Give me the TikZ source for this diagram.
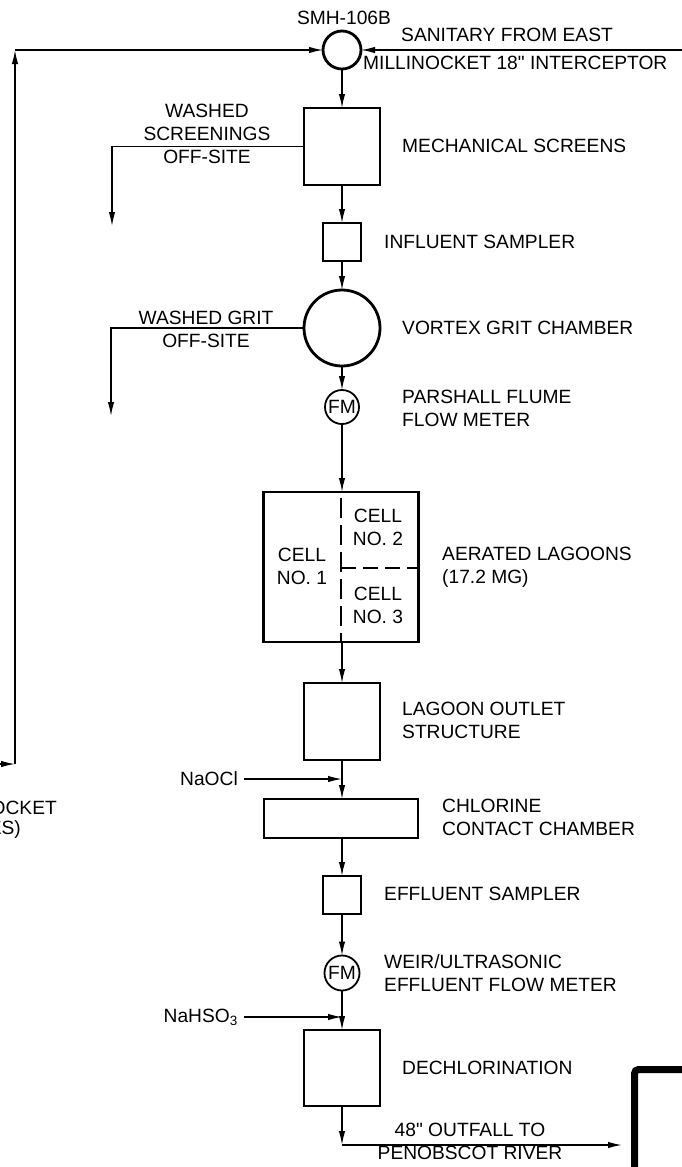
\documentclass[tikz,border=0pt]{standalone}
\usepackage{fontspec}
\setmainfont{Liberation Sans}[Ligatures=TeXOff]
\usetikzlibrary{arrows.meta}
\begin{document}
\begin{tikzpicture}[x=1pt,y=-1pt,
  font=\fontsize{19.2}{23}\selectfont,
  unit/.style={draw, line width=2.8pt, inner sep=0pt, outer sep=0pt, rectangle},
  circ/.style={draw, line width=2.8pt, inner sep=0pt, outer sep=0pt, circle},
  lbl/.style={anchor=west, inner sep=0pt, align=left},
  clbl/.style={inner sep=0pt, align=center},
  pipe/.style={line width=1.4pt},
  flow/.style={pipe, -{Latex[length=14pt,width=6.5pt]}},
  cdash/.style={line width=2.4pt, dash pattern=on 20pt off 7pt}]
\useasboundingbox (0,0) rectangle (681,1167);

% process units
\node[circ, minimum size=38pt] (smh) at (342,50) {};
\node[clbl] (smhl) at (344,18) {SMH-106B};
\node[unit, minimum width=76pt, minimum height=77pt] (ms) at (342,146.5) {};
\node[unit, minimum width=38pt, minimum height=38pt] (is) at (342,242) {};
\node[circ, minimum size=76pt] (vgc) at (342,328) {};
\node[circ, line width=1.8pt, minimum size=34pt] (fm1) at (342,407) {FM};
\node[unit, minimum width=155pt, minimum height=150pt] (lag) at (341,567) {};
\node[unit, minimum width=76pt, minimum height=77pt] (los) at (342,721.5) {};
\node[unit, minimum width=154pt, minimum height=39pt] (ccc) at (341,818.5) {};
\node[unit, minimum width=38pt, minimum height=38pt] (es) at (342,895) {};
\node[circ, line width=1.8pt, minimum size=35pt] (fm2) at (342,973) {FM};
\node[unit, minimum width=76pt, minimum height=76pt] (dech) at (342,1068) {};

% lagoon cell dividers
\coordinate (lagmid) at (341,568);
\draw[cdash, dash phase=-6pt] (lag.north) -- (lag.south);
\draw[cdash, dash pattern=on 15pt off 7pt] (lagmid) -- (lag.east |- lagmid);
\node[clbl] (c1) at (302,566) {CELL\\NO. 1};
\node[clbl] (c2) at (378,527) {CELL\\NO. 2};
\node[clbl] (c3) at (378,605) {CELL\\NO. 3};

% labels
\node[clbl] (san1) at (507,35) {SANITARY FROM EAST};
\node[lbl] (san2) at (363,63) {MILLINOCKET 18" INTERCEPTOR};
\node[lbl] (lms) at (402,146) {MECHANICAL SCREENS};
\node[lbl] (lis) at (384,242) {INFLUENT SAMPLER};
\node[lbl] (lvgc) at (402,328) {VORTEX GRIT CHAMBER};
\node[lbl] (lfm1) at (402,408) {PARSHALL FLUME\\FLOW METER};
\node[lbl] (llag) at (442,567) {AERATED LAGOONS\\(17.2 MG)};
\node[lbl] (llos) at (402,720) {LAGOON OUTLET\\STRUCTURE};
\node[lbl] (lccc) at (442,817) {CHLORINE\\CONTACT CHAMBER};
\node[lbl] (les) at (384,894) {EFFLUENT SAMPLER};
\node[lbl] (lfm2) at (384,973) {WEIR/ULTRASONIC\\EFFLUENT FLOW METER};
\node[lbl] (ldech) at (402,1068) {DECHLORINATION};
\node[clbl] (lws) at (207,134) {WASHED\\SCREENINGS\\OFF-SITE};
\node[clbl] (lwg) at (206,329) {WASHED GRIT\\OFF-SITE};
\node[clbl] (lout) at (470,1141) {48" OUTFALL TO\\PENOBSCOT RIVER};
\node[anchor=east, inner sep=0pt] (lft1) at (57,808) {OCKET};
\node[anchor=east, inner sep=0pt] (lft2) at (21,830) {ES)};
\node[anchor=east, inner sep=0pt] (naocl) at (238,779) {NaOCl};
\node[anchor=east, inner sep=0pt] (nahso) at (238,1017) {NaHSO\textsubscript{3}};

% main flow
\draw[flow] (smh.south) -- (ms.north);
\draw[flow] (ms.south) -- (is.north);
\draw[flow] (is.south) -- (vgc.north);
\draw[flow] (vgc.south) -- (fm1.north);
\draw[flow] (fm1.south) -- (fm1.south |- lag.north);
\draw[flow] (lag.south -| los.north) -- (los.north);
\draw[flow] (los.south) -- (los.south |- ccc.north);
\draw[flow] (ccc.south -| es.north) -- (es.north);
\draw[flow] (es.south) -- (fm2.north);
\draw[flow] (fm2.south) -- (dech.north);

% incoming sewers
\coordinate (rin) at (695,50);
\draw[flow] (rin) -- (smh.east);
\coordinate (lin) at (-30,764);
\coordinate (lb) at (15,764);
\coordinate (lt) at (15,50);
\draw[flow] (lin) -- (lb);
\draw[flow] (lb) -- (lt);
\draw[flow] (lt) -- (smh.west);

% chemicals
\coordinate (j1) at (342,779);
\draw[flow, shorten <=6pt] (naocl.east) -- (j1);
\coordinate (j2) at (342,1017);
\draw[flow, shorten <=6pt] (nahso.east) -- (j2);

% off-site
\coordinate (ws1) at (112,146.5);
\coordinate (ws2) at (112,226);
\draw[flow] (ms.west) -- (ws1) -- (ws2);
\coordinate (wg1) at (111,328);
\coordinate (wg2) at (111,416);
\draw[flow] (vgc.west) -- (wg1) -- (wg2);

% outfall
\coordinate (o1) at (342,1145);
\coordinate (o2) at (622,1145);
\draw[flow] (dech.south) -- (o1);
\draw[flow] (o1) -- (o2);

% frame corner
\draw[line width=7pt, rounded corners=4pt] (634.5,1180) -- (634.5,1069.5) -- (695,1069.5);
\end{tikzpicture}
\end{document}
